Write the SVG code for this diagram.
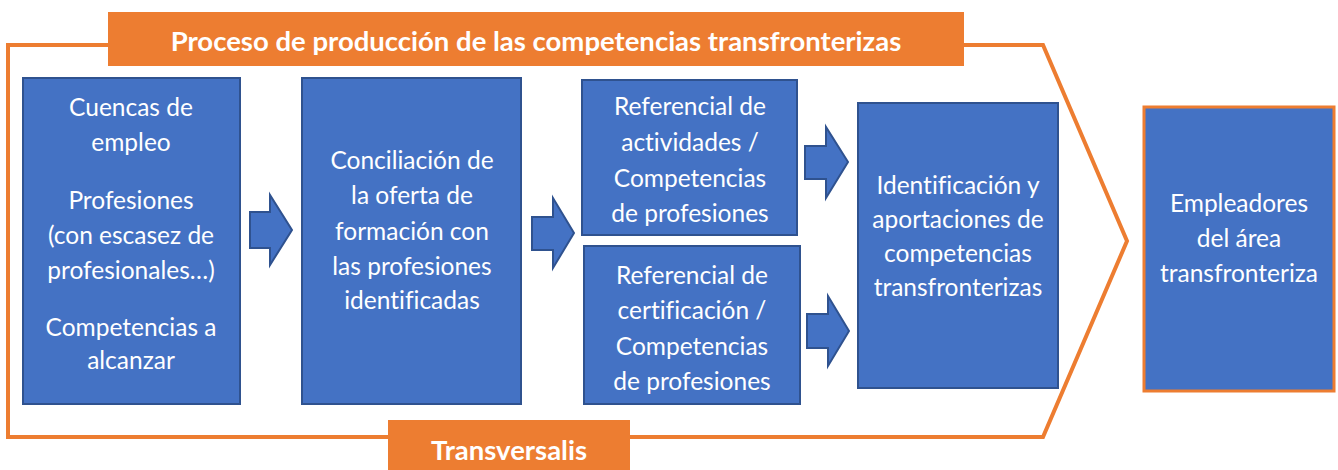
<svg xmlns="http://www.w3.org/2000/svg" width="1338" height="470" viewBox="0 0 1338 470">
<style>
.box{fill:#4472C4;stroke:#2F528F;stroke-width:2}
.arr{fill:#4472C4;stroke:#2F528F;stroke-width:2;stroke-linejoin:miter}
.t{font-family:Lato,"Liberation Sans",sans-serif;font-size:24.5px;fill:#fff;text-anchor:middle;font-variant-ligatures:none}
.b{font-family:Lato,"Liberation Sans",sans-serif;font-size:27.5px;font-weight:bold;fill:#fff;text-anchor:middle;font-variant-ligatures:none}
</style>
<rect width="1338" height="470" fill="#fff"/>
<g id="frame">
<polygon points="8,45 1043,45 1127,241 1043,437 8,437" fill="none" stroke="#ED7D31" stroke-width="4"/>
<rect x="108" y="12" width="856" height="54" fill="#ED7D31"/>
<text class="b" x="536" y="51">Proceso de producción de las competencias transfronterizas</text>
<rect x="388" y="420" width="242" height="50" fill="#ED7D31"/>
<text class="b" x="509" y="460">Transversalis</text>
</g>
<g id="connectors">
<polygon class="arr" points="250,212 270,212 270,195 292,230 270,265 270,248 250,248"/>
<polygon class="arr" points="532,217 553,217 553,198 574,233 553,268 553,250 532,250"/>
<polygon class="arr" points="805,146 826,146 826,127 848,162 826,198 826,179 805,179"/>
<polygon class="arr" points="807,314 828,314 828,296 849,331 828,366 828,348 807,348"/>
</g>
<g id="n1">
<rect class="box" x="23" y="78" width="217" height="326"/>
<text class="t" x="131" y="116">Cuencas de</text>
<text class="t" x="131" y="151">empleo</text>
<text class="t" x="131" y="209">Profesiones</text>
<text class="t" x="131" y="244">(con escasez de</text>
<text class="t" x="131" y="279">profesionales…)</text>
<text class="t" x="131" y="336">Competencias a</text>
<text class="t" x="131" y="369">alcanzar</text>
</g>
<g id="n2">
<rect class="box" x="302" y="78" width="219" height="326"/>
<text class="t" x="412" y="169">Conciliación de</text>
<text class="t" x="412" y="204">la oferta de</text>
<text class="t" x="412" y="240">formación con</text>
<text class="t" x="412" y="275">las profesiones</text>
<text class="t" x="412" y="309">identificadas</text>
</g>
<g id="n3">
<rect class="box" x="582" y="80" width="215" height="155"/>
<text class="t" x="690" y="115">Referencial de</text>
<text class="t" x="690" y="151">actividades /</text>
<text class="t" x="690" y="187">Competencias</text>
<text class="t" x="690" y="222">de profesiones</text>
</g>
<g id="n4">
<rect class="box" x="584" y="246" width="216" height="158"/>
<text class="t" x="692" y="284">Referencial de</text>
<text class="t" x="692" y="319">certificación /</text>
<text class="t" x="692" y="355">Competencias</text>
<text class="t" x="692" y="390">de profesiones</text>
</g>
<g id="n5">
<rect class="box" x="858" y="103" width="200" height="285"/>
<text class="t" x="958" y="194">Identificación y</text>
<text class="t" x="958" y="228">aportaciones de</text>
<text class="t" x="958" y="262">competencias</text>
<text class="t" x="958" y="296">transfronterizas</text>
</g>
<g id="n6">
<rect x="1144" y="107" width="190" height="284" fill="#4472C4" stroke="#ED7D31" stroke-width="3"/>
<text class="t" x="1239" y="212">Empleadores</text>
<text class="t" x="1239" y="247">del área</text>
<text class="t" x="1239" y="282">transfronteriza</text>
</g>
</svg>
